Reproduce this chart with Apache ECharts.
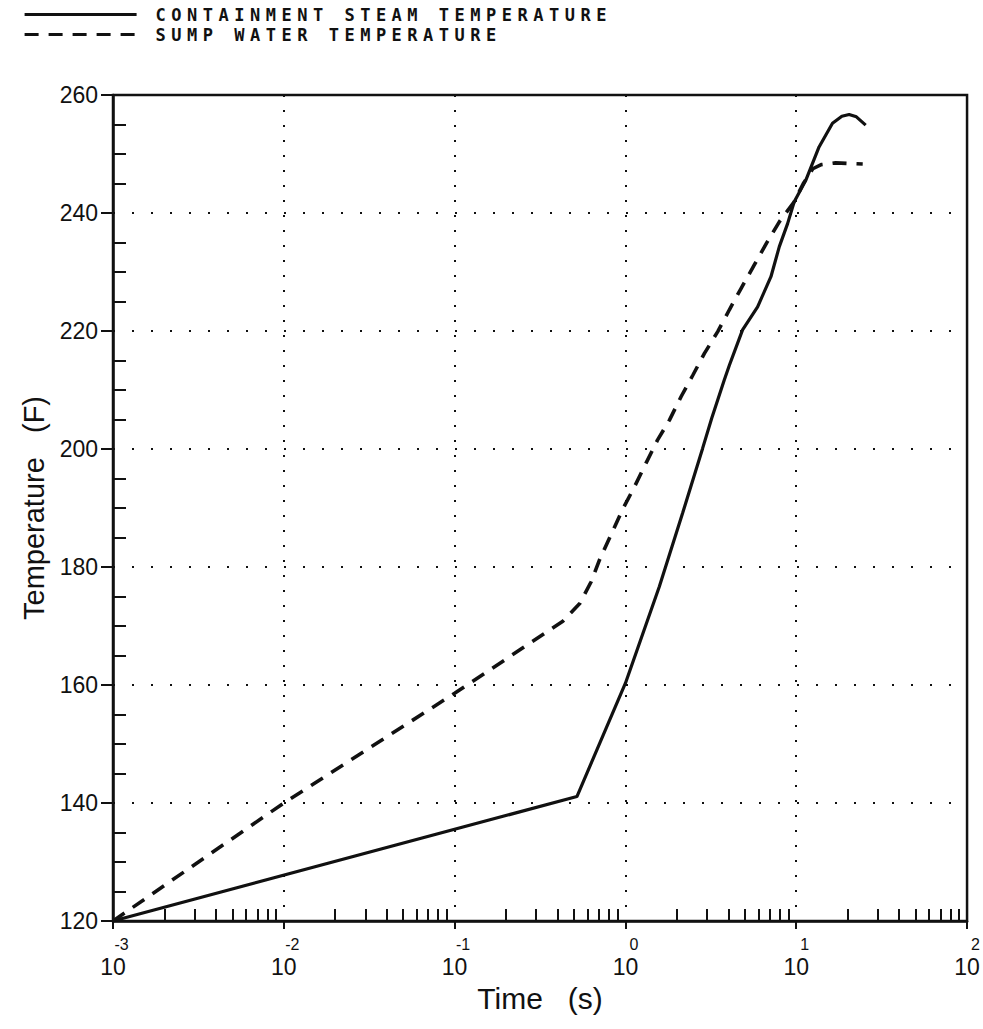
<!DOCTYPE html>
<html>
<head>
<meta charset="utf-8">
<script src="https://cdn.jsdelivr.net/npm/echarts@6/dist/echarts.min.js"></script>
<style>
  html, body { margin: 0; padding: 0; background: #fff; }
  #chart { width: 983px; height: 1029px; }
  svg text { white-space: pre; }
</style>
</head>
<body>
<div id="chart"></div>
<script>
// Containment steam temperature (F) against time (s)
const steamTime = [0.001, 0.52, 1.0, 1.58, 2.16, 2.83, 3.2, 3.79, 4.06, 4.85, 5.94, 7.11, 7.96, 8.9, 9.73, 11.4, 13.6, 16.3, 18.5, 20.4, 22.5, 25.5];
const steamTemp = [120, 141.1, 160.3, 176.7, 189.1, 200.1, 205.2, 211.7, 214.2, 220.2, 224.1, 229.2, 234.3, 238.2, 241.9, 245.6, 251.2, 255.2, 256.4, 256.7, 256.3, 254.9];

// Sump water temperature (F) against time (s)
const sumpTime = [0.001, 0.01, 0.1, 0.43, 0.54, 0.63, 0.705, 0.96, 1.13, 1.32, 1.54, 1.81, 2.12, 2.48, 2.90, 3.47, 4.06, 4.75, 5.68, 6.70, 7.96, 9.73, 11.0, 12.5, 14.0, 17.0, 20.0, 24.5];
const sumpTemp = [120, 140, 158.6, 170.8, 173.8, 177.5, 181.2, 189.7, 193.6, 197.6, 201.5, 204.9, 208.9, 212.5, 216.2, 219.9, 223.6, 227.2, 231.2, 234.9, 238.5, 241.9, 245.0, 247.5, 248.2, 248.5, 248.4, 248.3];

const seriesNames = ['CONTAINMENT STEAM TEMPERATURE', 'SUMP WATER TEMPERATURE'];

// Axis ticks
const xDecades = [0.001, 0.01, 0.1, 1, 10, 100];
const xMinorTicks = [];
for (let d = 0; d < xDecades.length - 1; d++) {
  for (let k = 2; k <= 9; k++) xMinorTicks.push(+(xDecades[d] * k).toPrecision(3));
}
const yTicks = [120, 140, 160, 180, 200, 220, 240, 260];
const yMinorTicks = [];
for (let i = 0; i < yTicks.length - 1; i++) {
  for (let s = 5; s < 20; s += 5) yMinorTicks.push(yTicks[i] + s);
}

const ink = '#111';
const sans = "'Liberation Sans', Arimo, Arial, sans-serif";

const chart = echarts.init(document.getElementById('chart'), null, { renderer: 'svg' });

const option = {
  animation: false,
  backgroundColor: '#fff',
  legend: {
    orient: 'vertical',
    left: 18,
    top: 1,
    itemWidth: 112,
    itemHeight: 12,
    itemGap: 3,
    selectedMode: false,
    data: seriesNames,
    itemStyle: { color: 'rgba(0,0,0,0)', borderWidth: 0 },
    lineStyle: { width: 3.2 },
    textStyle: {
      fontFamily: "'DejaVu Sans Mono', 'Liberation Mono', monospace",
      fontWeight: 'bold',
      fontSize: 17,
      lineHeight: 14,
      color: ink,
      padding: [0, 0, 0, 14]
    }
  },
  grid: {
    left: 113, right: 15, top: 95, bottom: 108,
    show: true, borderColor: ink, borderWidth: 2.5
  },
  xAxis: [
    {
      // decades: base "10" under each major tick
      type: 'log', logBase: 10, min: 0.001, max: 100,
      name: 'Time   (s)', nameLocation: 'middle', nameGap: 62,
      nameTextStyle: { fontFamily: sans, fontSize: 30, color: ink },
      axisLine: { onZero: false, lineStyle: { color: ink, width: 2.5 } },
      axisTick: { customValues: xDecades, length: 8, lineStyle: { color: ink, width: 2 } },
      axisLabel: {
        customValues: xDecades,
        margin: 34,
        fontFamily: sans,
        fontSize: 23,
        lineHeight: 23,
        color: ink,
        formatter: () => '10'
      },
      splitLine: { show: true, lineStyle: { color: ink, width: 2, type: [2, 13] } },
      minorTick: { show: false }
    },
    {
      // inner ticks at 2..9 of each decade, plus the decade exponents
      type: 'log', logBase: 10, min: 0.001, max: 100, position: 'bottom',
      axisLine: { show: false, onZero: false },
      axisTick: { inside: true, customValues: xMinorTicks, length: 12, lineStyle: { color: ink, width: 2 } },
      axisLabel: {
        customValues: xDecades,
        margin: 15,
        fontFamily: sans,
        fontSize: 16,
        lineHeight: 16,
        color: ink,
        padding: [0, 0, 0, 17],
        formatter: v => String(Math.round(Math.log10(v)))
      },
      splitLine: { show: false }
    }
  ],
  yAxis: [
    {
      type: 'value', min: 120, max: 260, interval: 20,
      name: 'Temperature   (F)', nameLocation: 'middle', nameGap: 60,
      nameTextStyle: { fontFamily: sans, fontSize: 29, color: ink },
      axisLine: { show: true, onZero: false, lineStyle: { color: ink, width: 2.5 } },
      axisTick: { show: true, length: 12, lineStyle: { color: ink, width: 2 } },
      axisLabel: { margin: 15, fontFamily: sans, fontSize: 23, color: ink },
      splitLine: { show: true, lineStyle: { color: ink, width: 2, type: [2, 17] } }
    },
    {
      type: 'value', min: 120, max: 260, position: 'left',
      axisLine: { show: false, onZero: false },
      axisTick: { show: true, inside: true, customValues: yMinorTicks, length: 13, lineStyle: { color: ink, width: 2 } },
      axisLabel: { show: false },
      splitLine: { show: false }
    }
  ],
  series: [
    {
      name: seriesNames[0], type: 'line', symbol: 'none', showSymbol: false,
      xAxisIndex: 0, yAxisIndex: 0,
      data: steamTime.map((t, i) => [t, steamTemp[i]]),
      lineStyle: { color: ink, width: 3.2, type: 'solid' },
      itemStyle: { color: ink }
    },
    {
      name: seriesNames[1], type: 'line', symbol: 'none', showSymbol: false,
      xAxisIndex: 0, yAxisIndex: 0,
      data: sumpTime.map((t, i) => [t, sumpTemp[i]]),
      lineStyle: { color: ink, width: 3.6, type: [14, 10] },
      itemStyle: { color: ink }
    }
  ]
};

chart.setOption(option);

// Plotter-style wide lettering for the legend captions
function spaceLegend() {
  document.querySelectorAll('#chart svg text').forEach(t => {
    if (seriesNames.includes(t.textContent)) t.setAttribute('letter-spacing', '5.5');
  });
}
spaceLegend();
chart.on('finished', spaceLegend);
</script>
</body>
</html>
